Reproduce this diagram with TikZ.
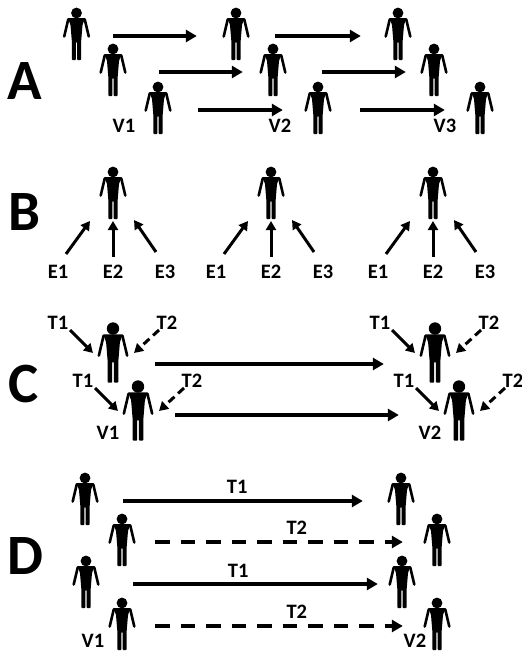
\documentclass[tikz,border=0pt]{standalone}
\usepackage{fontspec}
\setmainfont{Carlito}
\usetikzlibrary{arrows.meta}
\tikzset{
    letter/.style={font=\bfseries\fontsize{57}{60}\selectfont, inner sep=0pt},
    tag/.style={font=\bfseries\fontsize{20.5}{24}\selectfont, inner sep=0pt},
    link/.style={line width=3.4pt, -{Triangle[length=11pt, width=12pt]}},
    pointer/.style={line width=3pt, -{Triangle[length=9pt, width=10pt]}},
    dashlink/.style={link, dash pattern=on 14.5pt off 11pt},
    dashpointer/.style={pointer, dash pattern=on 8pt off 5pt},
    gap/.style 2 args={shorten <=#1pt, shorten >=#2pt},
    person/.pic={
        \node[minimum width=26pt, minimum height=56pt, inner sep=0pt, transform shape] (-box) {};
        \fill (0,-23) circle (5.4);
        \fill[rounded corners=0.8pt] (-8.5,-18) -- (8.5,-18) -- (6,-11) -- (4.6,6) -- (4.6,24) -- (0.7,24) -- (0.7,6)
            -- (-0.7,6) -- (-0.7,24) -- (-4.6,24) -- (-4.6,6) -- (-6,-11) -- cycle;
        \draw[line width=2.6pt, line cap=round, line join=round] (-8.2,-16.8) -- (-12.3,0.5);
        \draw[line width=2.6pt, line cap=round, line join=round] (8.2,-16.8) -- (12.3,0.5);
    }
}
\begin{document}
\begin{tikzpicture}[x=1pt, y=-1pt]
\useasboundingbox (0,0) rectangle (522,651);

\node[letter] (lettera) at (25,81) {A};
\node[letter] (letterb) at (24,212) {B};
\node[letter] (letterc) at (24,384) {C};
\node[letter] (letterd) at (25,556) {D};

\foreach \n/\x/\y in {a1/76.5/36, a2/236/36, a3/398/36, a4/113/72, a5/273/72, a6/434/72, a7/158/110, a8/318/110, a9/480/110}
    \pic (\n) at (\x,\y) {person};

\draw[link, gap={23.5}{26}] (a1-box) -- (a2-box);
\draw[link, gap={26}{24}] (a2-box) -- (a3-box);
\draw[link, gap={33}{17}] (a4-box) -- (a5-box);
\draw[link, gap={36}{15}] (a5-box) -- (a6-box);
\draw[link, gap={27}{22}] (a7-box) -- (a8-box);
\draw[link, gap={29}{22}] (a8-box) -- (a9-box);

\node[tag] (va1) at (124,126) {V1};
\node[tag] (va2) at (280,126) {V2};
\node[tag] (va3) at (445,126) {V3};

\foreach \i/\x in {1/113, 2/271, 3/433} {
    \pic (b\i) at (\x,195) {person};
    \node[tag] (e\i a) at (\x-55,272) {E1};
    \node[tag] (e\i b) at (\x,272) {E2};
    \node[tag] (e\i c) at (\x+52,272) {E3};
    \draw[pointer] ([shift={(8,-18)}]e\i a.center) -- ([shift={(-23,26)}]b\i-box.center);
    \draw[pointer] ([shift={(0,-15)}]e\i b.center) -- ([shift={(0,26)}]b\i-box.center);
    \draw[pointer] ([shift={(-9,-20)}]e\i c.center) -- ([shift={(21,25)}]b\i-box.center);
}

\foreach \n/\x/\y in {c1/113/355, c2/138/413, c3/435/355, c4/459/413} {
    \pic[scale=1.15] (\n) at (\x,\y) {person};
    \node[tag] (\n ta) at (\x-55,\y-32) {T1};
    \node[tag] (\n tb) at (\x+54,\y-32) {T2};
    \draw[pointer] ([shift={(12,7)}]\n ta.center) -- ([shift={(-20,-2)}]\n-box.center);
    \draw[dashpointer] ([shift={(-8,7)}]\n tb.center) -- ([shift={(21,-2)}]\n-box.center);
}

\draw[link, gap={27}{36}] ([yshift=-9pt]c1-box.east) -- ([yshift=-9pt]c3-box.west);
\draw[link, gap={22}{45}] ([yshift=-2pt]c2-box.east) -- ([yshift=-2pt]c4-box.west);

\node[tag] (vc1) at (108,433) {V1};
\node[tag] (vc2) at (430,433) {V2};

\foreach \n/\x/\y in {d1/85/501, d2/122/542, d3/86/584, d4/122/626, d5/401/501, d6/437/542, d7/402/584, d8/437/626}
    \pic (\n) at (\x,\y) {person};

\draw[link, gap={25}{25}] (d1-box) -- node[tag, above=6pt, pos=.48] (ta1) {T1} (d5-box);
\draw[dashlink, gap={20}{21}] (d2-box) -- node[tag, above=6pt, pos=.56] (ta2) {T2} (d6-box);
\draw[link, gap={34}{11}] (d3-box) -- node[tag, above=5pt, pos=.48] (ta3) {T1} (d7-box);
\draw[dashlink, gap={20}{21}] (d4-box) -- node[tag, above=6pt, pos=.56] (ta4) {T2} (d8-box);

\node[tag] (vd1) at (93,640.5) {V1};
\node[tag] (vd2) at (415,640.5) {V2};

\end{tikzpicture}
\end{document}
